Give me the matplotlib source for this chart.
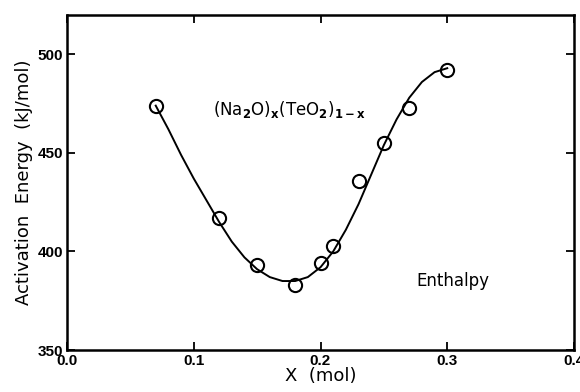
import matplotlib
matplotlib.use("Agg")
import matplotlib.pyplot as plt

# measured data points
x_data = [0.07, 0.12, 0.15, 0.18, 0.20, 0.21, 0.23, 0.25, 0.27, 0.30]
e_data = [474, 417, 393, 383, 394, 403, 436, 455, 473, 492]

# fitted curve
x_fit = [0.07, 0.08, 0.09, 0.10, 0.11, 0.12, 0.13, 0.14, 0.15, 0.16, 0.17, 0.18,
         0.19, 0.20, 0.21, 0.22, 0.23, 0.24, 0.25, 0.26, 0.27, 0.28, 0.29, 0.30]
e_fit = [474, 462, 449, 437, 426, 415, 405, 397, 391, 387, 385, 385,
         387, 392, 400, 411, 424, 439, 454, 467, 478, 486, 491, 493]

x_ticks = [0.0, 0.1, 0.2, 0.3, 0.4]
x_ticklabels = ["0.0", "0.1", "0.2", "0.3", "0.4"]
y_ticks = [350, 400, 450, 500]
y_ticklabels = ["350", "400", "450", "500"]

fig = plt.figure(figsize=(5.8, 3.92), dpi=100)
ax = fig.add_axes([67/580, 1 - 350/392, (574-67)/580, (350-15)/392])

ax.plot(x_fit, e_fit, color="black", lw=1.4, solid_joinstyle="round")
ax.plot(x_data, e_data, linestyle="none", marker="o", ms=9.5, mfc="none",
        mec="black", mew=1.5)

ax.set_xlim(0.0, 0.4)
ax.set_ylim(350, 520)
ax.set_xticks(x_ticks)
ax.set_xticklabels(x_ticklabels)
ax.set_yticks(y_ticks)
ax.set_yticklabels(y_ticklabels)

for s in ax.spines.values():
    s.set_linewidth(1.8)
ax.tick_params(direction="in", length=6, width=1.3, top=True, right=True,
               labelsize=11, pad=3)
for lab in ax.get_xticklabels() + ax.get_yticklabels():
    lab.set_fontweight("bold")
    lab.set_family("Liberation Sans")

ax.set_xlabel("X  (mol)", fontsize=13, labelpad=-1, family="DejaVu Sans")
ax.set_ylabel("Activation  Energy  (kJ/mol)", fontsize=13, labelpad=3,
              family="DejaVu Sans")

ax.text(0.115, 472, r"(Na$_\mathbf{2}$O)$_\mathbf{x}$(TeO$_\mathbf{2}$)$_\mathbf{1-x}$",
        fontsize=12, va="center", ha="left", family="DejaVu Sans")
ax.text(0.276, 385, "Enthalpy", fontsize=12, va="center", ha="left",
        family="DejaVu Sans")

fig.savefig("out.png", dpi=100)
